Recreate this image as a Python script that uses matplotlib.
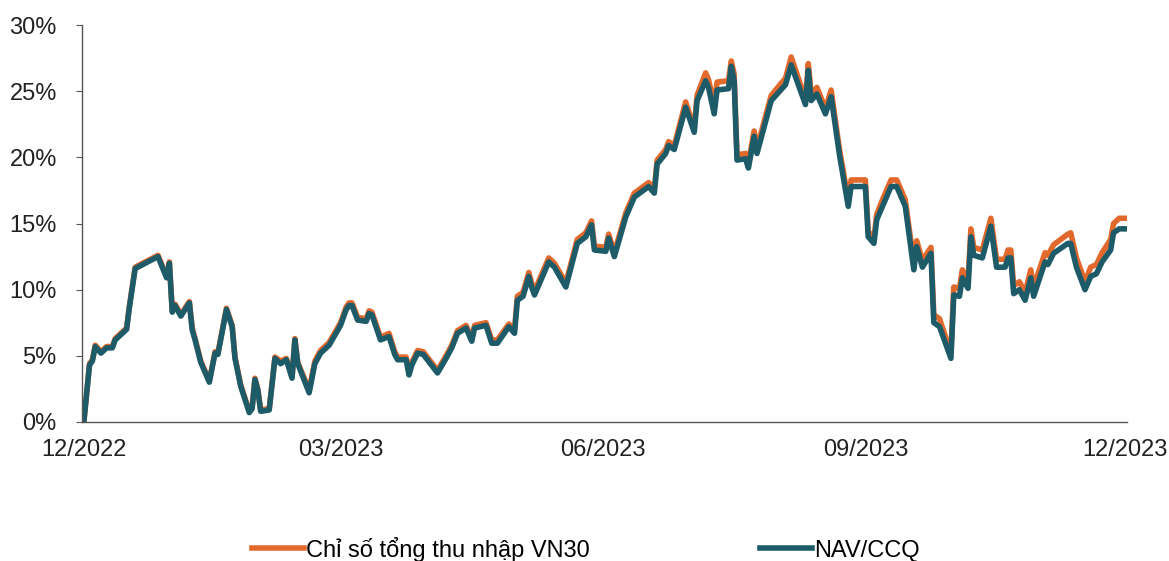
import pandas as pd
import matplotlib.pyplot as plt
from matplotlib.ticker import FuncFormatter

# so ngay tinh tu 01/12/2022 (dinh cua duong, doc tu hinh)
ngay = [0, 2, 3, 4, 6, 8, 10, 11, 13, 15, 16, 18, 26, 29, 30, 31, 32, 34, 37, 38,
        39, 41, 44, 46, 47, 50, 52, 53, 55, 58, 59, 60, 61, 62, 65, 67, 69, 71, 73, 74,
        75, 79, 81, 83, 86, 90, 92, 93, 94, 96, 99, 100, 101, 104, 107, 109, 110, 113, 114, 115,
        117, 119, 124, 127, 129, 131, 134, 136, 137, 141, 143, 145, 149, 151, 152, 154, 156, 157, 158, 163,
        165, 169, 173, 176, 178, 179, 183, 184, 186, 190, 193, 198, 200, 201, 204, 205, 207, 211, 214, 215,
        218, 219, 221, 222, 226, 227, 228, 229, 232, 233, 235, 236, 241, 246, 248, 253, 254, 255, 257, 260,
        262, 265, 268, 269, 274, 275, 277, 278, 280, 283, 285, 288, 291, 292, 294, 297, 298, 300, 304, 305,
        307, 308, 310, 311, 312, 315, 318, 320, 323, 324, 325, 326, 328, 330, 332, 333, 337, 338, 340, 345,
        346, 348, 351, 353, 355, 357, 360, 361, 363, 365]

# NAV/CCQ (%)
nav = [0.0, 4.3, 4.6, 5.7, 5.2, 5.6, 5.6, 6.2, 6.6, 7.0, 8.7, 11.6, 12.5, 10.9, 12.0, 8.3, 8.8, 8.0, 9.0, 6.95,
       6.2, 4.5, 3.0, 5.2, 5.1, 8.5, 7.2, 4.8, 2.7, 0.7, 1.0, 3.2, 2.4, 0.8, 0.9, 4.8, 4.4, 4.7, 3.3, 6.2,
       4.4, 2.2, 4.4, 5.2, 5.8, 7.3, 8.5, 8.8, 8.8, 7.7, 7.6, 8.2, 8.1, 6.2, 6.45, 5.1, 4.7, 4.7, 3.55, 4.3,
       5.2, 5.1, 3.7, 4.8, 5.6, 6.7, 7.1, 6.1, 7.1, 7.3, 5.95, 5.95, 7.2, 6.7, 9.2, 9.5, 11.0, 10.2, 9.6, 12.1,
       11.7, 10.2, 13.5, 14.0, 14.9, 13.0, 12.9, 13.9, 12.5, 15.5, 17.0, 17.8, 17.3, 19.5, 20.3, 20.9, 20.6, 23.8, 21.9, 24.3,
       25.8, 25.3, 23.3, 25.1, 25.2, 26.9, 25.8, 19.8, 19.9, 19.2, 21.6, 20.3, 24.3, 25.5, 27.0, 24.0, 26.6, 24.3, 24.8, 23.3,
       24.6, 20.1, 16.3, 17.8, 17.8, 14.0, 13.5, 15.3, 16.3, 17.8, 17.8, 16.3, 11.5, 13.25, 11.7, 12.75, 7.5, 7.2, 4.8, 9.6,
       9.5, 10.9, 10.1, 14.0, 12.6, 12.4, 14.8, 11.7, 11.7, 12.4, 12.4, 9.7, 10.0, 9.2, 10.9, 9.5, 12.1, 11.9, 12.75, 13.5,
       13.5, 11.7, 10.0, 11.0, 11.2, 12.1, 13.0, 14.3, 14.6, 14.6]

# Chi so tong thu nhap VN30 (%)
vn30 = [0.0, 4.4, 4.7, 5.8, 5.3, 5.7, 5.7, 6.3, 6.7, 7.1, 8.8, 11.7, 12.6, 11.0, 12.1, 8.4, 8.9, 8.1, 9.1, 7.1,
        6.3, 4.6, 3.1, 5.3, 5.2, 8.6, 7.3, 4.9, 2.8, 0.8, 1.1, 3.3, 2.5, 0.9, 1.0, 4.9, 4.6, 4.8, 3.4, 6.3,
        4.5, 2.4, 4.6, 5.4, 6.0, 7.5, 8.7, 9.0, 9.0, 7.9, 7.8, 8.4, 8.3, 6.4, 6.7, 5.3, 4.9, 4.9, 3.8, 4.5,
        5.4, 5.3, 3.9, 5.0, 5.8, 6.9, 7.3, 6.3, 7.3, 7.5, 6.2, 6.2, 7.4, 7.0, 9.5, 9.8, 11.3, 10.5, 9.9, 12.4,
        12.0, 10.5, 13.8, 14.3, 15.2, 13.3, 13.2, 14.2, 12.8, 15.8, 17.3, 18.1, 17.6, 19.8, 20.6, 21.2, 20.9, 24.2, 22.2, 24.7,
        26.4, 25.9, 24.0, 25.7, 25.8, 27.3, 26.3, 20.2, 20.3, 19.6, 22.0, 20.7, 24.7, 26.0, 27.6, 24.4, 27.1, 24.8, 25.3, 23.7,
        25.1, 20.5, 16.8, 18.3, 18.3, 14.4, 13.9, 15.7, 16.8, 18.3, 18.3, 16.8, 12.0, 13.7, 12.2, 13.2, 8.1, 7.8, 5.2, 10.2,
        10.1, 11.5, 10.7, 14.6, 13.2, 13.0, 15.4, 12.3, 12.3, 13.0, 13.0, 10.3, 10.6, 9.8, 11.5, 10.2, 12.8, 12.6, 13.4, 14.2,
        14.3, 12.4, 10.6, 11.7, 11.9, 12.8, 13.8, 15.0, 15.4, 15.4]

moc = ['2022-12-01', '2023-03-01', '2023-06-01', '2023-09-01', '2023-12-01']
nhan_moc = ['12/2022', '03/2023', '06/2023', '09/2023', '12/2023']

plt.rcParams['font.family'] = ['Liberation Sans', 'DejaVu Sans']

bat_dau = pd.Timestamp('2022-12-01')
x = [bat_dau + pd.Timedelta(days=d) for d in ngay]

fig = plt.figure(figsize=(11.69, 5.61), dpi=100)
ax = fig.add_axes([0.070, 0.248, 0.894, 0.707])

ax.plot(x, vn30, color='#E2692C', lw=4.0, solid_joinstyle='round', label='Chỉ số tổng thu nhập VN30')
ax.plot(x, nav, color='#1E5B69', lw=4.0, solid_joinstyle='round', label='NAV/CCQ')

ax.set_ylim(0, 30)
ax.set_yticks(range(0, 31, 5))
ax.yaxis.set_major_formatter(FuncFormatter(lambda v, p: f'{v:.0f}%'))
ax.set_xlim(bat_dau - pd.Timedelta(days=0.7), bat_dau + pd.Timedelta(days=365.7))
ax.set_xticks(pd.to_datetime(moc))
ax.set_xticklabels(nhan_moc)

for s in ['top', 'right']:
    ax.spines[s].set_visible(False)
for s in ['left', 'bottom']:
    ax.spines[s].set_color('#555555')
    ax.spines[s].set_linewidth(1.0)

ax.tick_params(axis='y', length=4, width=0.8, color='#555555', pad=14, labelsize=17, labelcolor='#222222')
ax.tick_params(axis='x', length=0, pad=12, labelsize=17, labelcolor='#222222')

fig.legend(loc='center', bbox_to_anchor=(586 / 1169, 1 - 549 / 561), ncol=2, frameon=False,
           fontsize=17, handlelength=2.2, handletextpad=0.1, columnspacing=7.2)

fig.savefig('out.png', dpi=100)
